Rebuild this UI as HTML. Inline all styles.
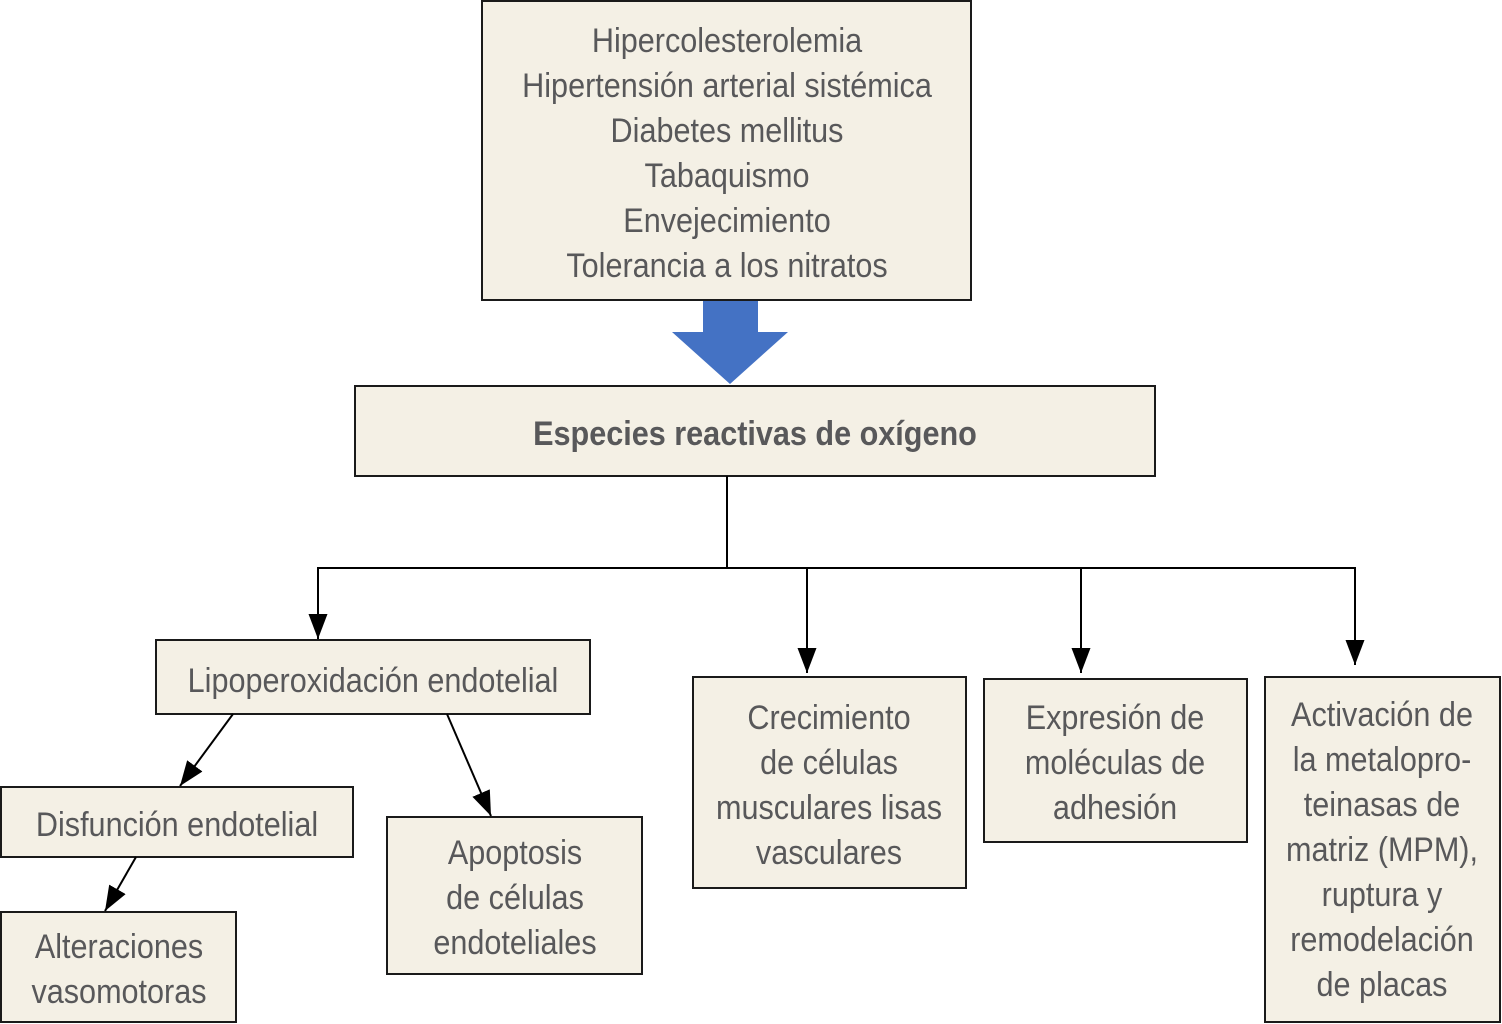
<!DOCTYPE html>
<html><head><meta charset="utf-8">
<style>
html,body{margin:0;padding:0;background:#fff;}
svg{display:block;}
text{font-family:"Liberation Sans",Arial,sans-serif;font-size:34px;fill:#58585a;}
.b{font-weight:bold;}
</style></head>
<body>
<svg width="1502" height="1024" viewBox="0 0 1502 1024" xmlns="http://www.w3.org/2000/svg">
<defs>
<marker id="ah" markerWidth="25" markerHeight="19" refX="25" refY="9.5" orient="auto" markerUnits="userSpaceOnUse" viewBox="0 0 25 19">
<path d="M0,0 L25,9.5 L0,19 Z" fill="#000"/>
</marker>
</defs>
<g fill="#f4f0e5" stroke="#1a1a1a" stroke-width="2">
<rect x="482" y="1" width="489" height="299"/>
<rect x="355" y="386" width="800" height="90"/>
<rect x="156" y="640" width="434" height="74"/>
<rect x="1" y="787" width="352" height="70"/>
<rect x="1" y="912" width="235" height="110"/>
<rect x="387" y="817" width="255" height="157"/>
<rect x="693" y="677" width="273" height="211"/>
<rect x="984" y="679" width="263" height="163"/>
<rect x="1265" y="677" width="235" height="345"/>
</g>
<polygon points="703,301 758,301 758,332 788,332 730,384 672,332 703,332" fill="#4472c4"/>
<g stroke="#000" stroke-width="2" fill="none">
<line x1="727" y1="476" x2="727" y2="568"/>
<line x1="318" y1="568" x2="1356" y2="568"/>
<line x1="318" y1="567" x2="318" y2="639" marker-end="url(#ah)"/>
<line x1="807" y1="567" x2="807" y2="673" marker-end="url(#ah)"/>
<line x1="1081" y1="567" x2="1081" y2="673" marker-end="url(#ah)"/>
<line x1="1355" y1="567" x2="1355" y2="665" marker-end="url(#ah)"/>
<line x1="233" y1="714" x2="180" y2="786" marker-end="url(#ah)"/>
<line x1="447" y1="714" x2="491" y2="816" marker-end="url(#ah)"/>
<line x1="136" y1="857" x2="105" y2="911" marker-end="url(#ah)"/>
</g>
<g text-anchor="middle">
<g transform="translate(727,0) scale(0.9,1)">
<text x="0" y="52">Hipercolesterolemia</text>
<text x="0" y="97">Hipertensión arterial sistémica</text>
<text x="0" y="142">Diabetes mellitus</text>
<text x="0" y="187">Tabaquismo</text>
<text x="0" y="232">Envejecimiento</text>
<text x="0" y="277">Tolerancia a los nitratos</text>
</g>
<g transform="translate(755,0) scale(0.9,1)">
<text class="b" x="0" y="445">Especies reactivas de oxígeno</text>
</g>
<g transform="translate(373,0) scale(0.9,1)">
<text x="0" y="692">Lipoperoxidación endotelial</text>
</g>
<g transform="translate(177,0) scale(0.9,1)">
<text x="0" y="836">Disfunción endotelial</text>
</g>
<g transform="translate(119,0) scale(0.9,1)">
<text x="0" y="958">Alteraciones</text>
<text x="0" y="1003">vasomotoras</text>
</g>
<g transform="translate(515,0) scale(0.9,1)">
<text x="0" y="864">Apoptosis</text>
<text x="0" y="909">de células</text>
<text x="0" y="954">endoteliales</text>
</g>
<g transform="translate(829,0) scale(0.9,1)">
<text x="0" y="729">Crecimiento</text>
<text x="0" y="774">de células</text>
<text x="0" y="819">musculares lisas</text>
<text x="0" y="864">vasculares</text>
</g>
<g transform="translate(1115,0) scale(0.9,1)">
<text x="0" y="729">Expresión de</text>
<text x="0" y="774">moléculas de</text>
<text x="0" y="819">adhesión</text>
</g>
<g transform="translate(1382,0) scale(0.9,1)">
<text x="0" y="726">Activación de</text>
<text x="0" y="771">la metalopro-</text>
<text x="0" y="816">teinasas de</text>
<text x="0" y="861">matriz (MPM),</text>
<text x="0" y="906">ruptura y</text>
<text x="0" y="951">remodelación</text>
<text x="0" y="996">de placas</text>
</g>
</g>
</svg>
</body></html>
